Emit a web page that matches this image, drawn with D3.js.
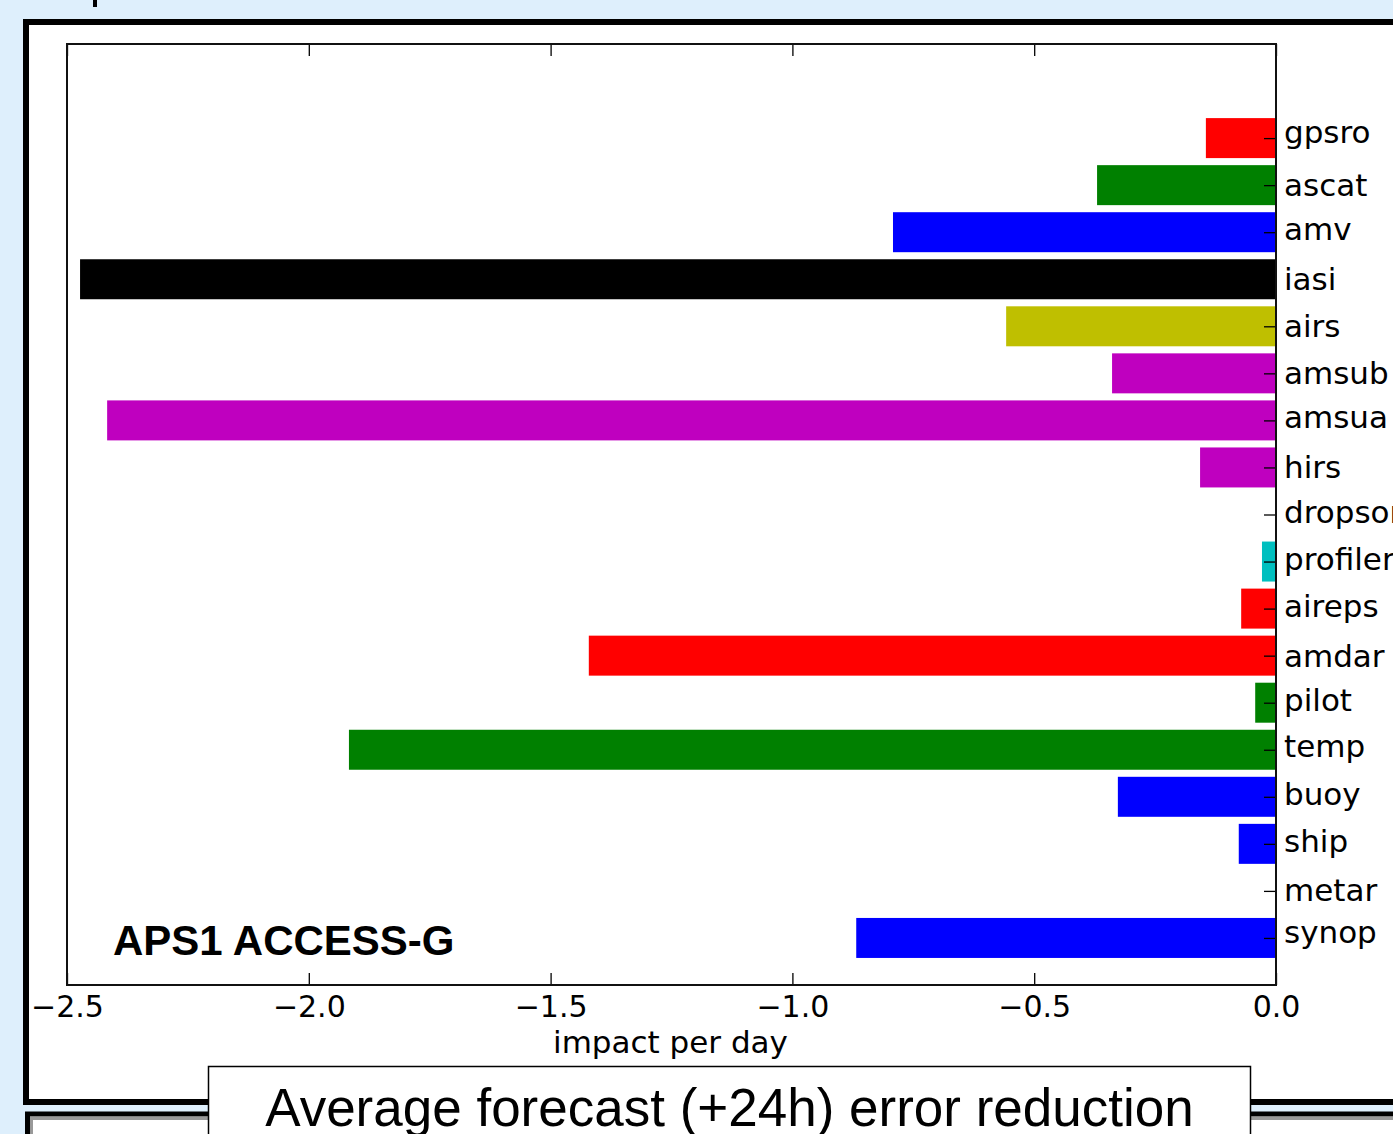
<!DOCTYPE html>
<html>
<head>
<meta charset="utf-8">
<script src="https://cdn.jsdelivr.net/npm/d3@7"></script>
<style>
  html, body { margin: 0; padding: 0; background: #deeffc; overflow: hidden; }
  svg { display: block; }
</style>
</head>
<body>
<script>
// Observation types, listed top to bottom
const categories = ["gpsro", "ascat", "amv", "iasi", "airs", "amsub", "amsua", "hirs",
  "dropsonde", "profiler", "aireps", "amdar", "pilot", "temp", "buoy", "ship", "metar", "synop"];
// Impact per day for each observation type
const impacts = [-0.145, -0.370, -0.792, -2.473, -0.558, -0.339, -2.417, -0.157,
  -0.001, -0.029, -0.072, -1.421, -0.043, -1.917, -0.327, -0.077, -0.001, -0.868];
const barColors = ["#ff0000", "#008000", "#0000ff", "#000000", "#bfbf00", "#bf00bf", "#bf00bf", "#bf00bf",
  "#00bfbf", "#00bfbf", "#ff0000", "#ff0000", "#008000", "#008000", "#0000ff", "#0000ff", "#0000ff", "#0000ff"];
const xTicks = [-2.5, -2.0, -1.5, -1.0, -0.5, 0.0];
const xDomain = [-2.5, 0];
const xLabel = "impact per day";
const panelTitle = "APS1 ACCESS-G";
const caption = "Average forecast (+24h) error reduction";

const W = 1393, H = 1134;
const plot = { left: 67, right: 1276, top: 44, bottom: 985 };
const n = categories.length;

const svg = d3.select("body").append("svg").attr("width", W).attr("height", H);

// page background
svg.append("rect").attr("width", W).attr("height", H).attr("fill", "#deeffc");
svg.append("rect").attr("x", 93).attr("y", 0).attr("width", 4).attr("height", 7).attr("fill", "#000");

// lower slide frame
svg.append("rect").attr("x", 27.5).attr("y", 1114).attr("width", 1420).attr("height", 100)
  .attr("fill", "#fff").attr("stroke", "#000").attr("stroke-width", 5);
svg.append("rect").attr("x", 31.5).attr("y", 1118.5).attr("width", 1420).attr("height", 100)
  .attr("fill", "none").attr("stroke", "#999").attr("stroke-width", 3);

// main frame
svg.append("rect").attr("x", 26).attr("y", 22).attr("width", 1420).attr("height", 1080)
  .attr("fill", "#fff").attr("stroke", "#000").attr("stroke-width", 6);

const x = d3.scaleLinear().domain(xDomain).range([plot.left, plot.right]);
const y = d3.scaleLinear().domain([-1, n + 1]).range([plot.bottom, plot.top]);
const pos = i => n - 1 - i;
const barH = (y(0) - y(0.85));

const g = svg.append("g");

// bars
g.selectAll("rect.bar").data(categories).join("rect")
  .attr("class", "bar")
  .attr("x", (d, i) => x(Math.min(impacts[i], 0)))
  .attr("width", (d, i) => Math.abs(x(impacts[i]) - x(0)))
  .attr("y", (d, i) => y(pos(i)) - barH / 2)
  .attr("height", barH)
  .attr("fill", (d, i) => barColors[i]);

// axes
const fmt = d3.format(".1f");
const bottomAxis = g.append("g").attr("transform", `translate(0,${plot.bottom})`)
  .call(d3.axisBottom(x).tickValues(xTicks).tickFormat(fmt).tickSize(-12).tickPadding(11));
const topAxis = g.append("g").attr("transform", `translate(0,${plot.top})`)
  .call(d3.axisTop(x).tickValues(xTicks).tickFormat("").tickSize(-12));
const rightAxis = g.append("g").attr("transform", `translate(${plot.right},0)`)
  .call(d3.axisRight(y).tickValues(categories.map((d, i) => pos(i)))
    .tickFormat(v => categories[n - 1 - v]).tickSize(-12).tickPadding(8));

[bottomAxis, topAxis, rightAxis].forEach(a => {
  a.select(".domain").remove();
  a.selectAll(".tick line").attr("stroke", "#000").attr("stroke-width", 1.3);
  a.selectAll("text").attr("fill", "#000")
    .attr("font-family", "'DejaVu Sans', sans-serif").attr("font-size", 30);
});
rightAxis.selectAll("text").attr("font-size", 31);

// centre each category label on its ink extent
const ctx = document.createElement("canvas").getContext("2d");
ctx.font = "31px 'DejaVu Sans'";
rightAxis.selectAll(".tick text").each(function () {
  const m = ctx.measureText(this.textContent);
  const off = (m.actualBoundingBoxAscent - m.actualBoundingBoxDescent) / 2;
  d3.select(this).attr("dy", null).attr("y", off - 1);
});

// spines
g.append("rect").attr("x", plot.left).attr("y", plot.top)
  .attr("width", plot.right - plot.left).attr("height", plot.bottom - plot.top)
  .attr("fill", "none").attr("stroke", "#111").attr("stroke-width", 2);

// axis label
g.append("text").attr("x", (plot.left + plot.right) / 2 - 1).attr("y", 1053)
  .attr("text-anchor", "middle").attr("font-family", "'DejaVu Sans', sans-serif")
  .attr("font-size", 31).attr("fill", "#000").text(xLabel);

// panel title
g.append("text").attr("x", 113).attr("y", 955)
  .attr("font-family", "'Liberation Sans', Arial, sans-serif").attr("font-weight", "bold")
  .attr("font-size", 42).attr("fill", "#000").text(panelTitle);

// caption box
svg.append("rect").attr("x", 208.5).attr("y", 1066.5).attr("width", 1042).attr("height", 100)
  .attr("fill", "#fff").attr("stroke", "#000").attr("stroke-width", 1.5);
svg.append("text").attr("x", 729.5).attr("y", 1126).attr("text-anchor", "middle")
  .attr("font-family", "'Liberation Sans', Arial, sans-serif")
  .attr("font-size", 53).attr("fill", "#000").text(caption);
</script>
</body>
</html>
